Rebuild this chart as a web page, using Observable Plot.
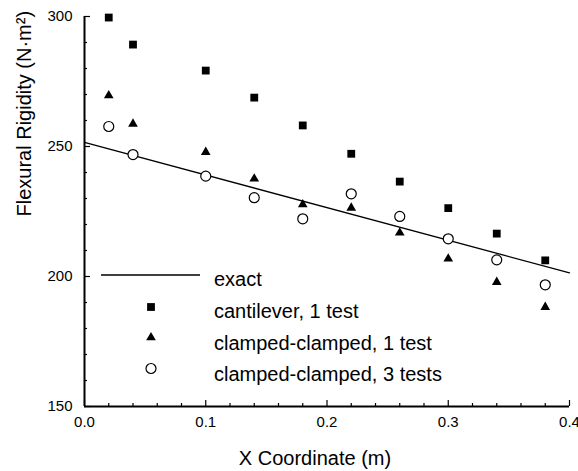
<!DOCTYPE html>
<html><head><meta charset="utf-8">
<script src="https://cdn.jsdelivr.net/npm/d3@7"></script>
<script src="https://cdn.jsdelivr.net/npm/@observablehq/plot@0.6"></script>
<style>
body{margin:0;background:#fff;}
#chart{position:relative;width:578px;height:471px;overflow:hidden;}
</style>
</head><body><div id="chart"></div>
<script>
// Data
const xPositions = [0.02, 0.04, 0.10, 0.14, 0.18, 0.22, 0.26, 0.30, 0.34, 0.38];
const cantilever1 = [299.6, 289.2, 279.2, 268.8, 258.1, 247.2, 236.5, 226.3, 216.5, 206.2];
const clamped1 = [269.6, 258.7, 247.8, 237.6, 227.7, 226.4, 216.8, 206.8, 197.8, 188.2];
const clamped3 = [257.7, 246.9, 238.6, 230.3, 222.2, 231.8, 223.1, 214.5, 206.4, 196.8];
const exactX = [0, 0.4];
const exactY = [251.6, 201.4];
const xTicks = [0, 0.1, 0.2, 0.3, 0.4];
const xMinorTicks = [0.02, 0.04, 0.06, 0.08, 0.12, 0.14, 0.16, 0.18, 0.22, 0.24, 0.26, 0.28, 0.32, 0.34, 0.36, 0.38];
const yTicks = [150, 200, 250, 300];
const yMinorTicks = [160, 170, 180, 190, 210, 220, 230, 240, 260, 270, 280, 290];
const legendLabels = ["exact", "cantilever, 1 test", "clamped-clamped, 1 test", "clamped-clamped, 3 tests"];
const xTitle = "X Coordinate (m)";
const yTitle = "Flexural Rigidity (N\u00B7m\u00B2)";

const font = "'Liberation Sans', Arial, Helvetica, sans-serif";
const toRows = ys => xPositions.map((x, i) => ({x, y: ys[i]}));
const exactRows = exactX.map((x, i) => ({x, y: exactY[i]}));

const W = 578, H = 471, mL = 84, mR = 9, mT = 16, mB = 65;
const frameW = W - mL - mR, frameH = H - mT - mB;

const plot = Plot.plot({
  width: W,
  height: H,
  marginLeft: mL,
  marginRight: mR,
  marginTop: mT,
  marginBottom: mB,
  style: {fontFamily: font, fontSize: "15px", color: "black", background: "white", overflow: "visible"},
  x: {domain: [0, 0.4], nice: false},
  y: {domain: [150, 300], nice: false},
  marks: [
    Plot.axisX(xTicks, {tickSize: 0, tickPadding: 10, tickFormat: d3.format(".1f"), label: null, fontSize: 15}),
    Plot.axisY(yTicks, {tickSize: 0, tickPadding: 12, label: null, fontSize: 15}),
    // inward tick marks
    Plot.ruleX(xTicks, {insetTop: frameH - 6, stroke: "black", strokeWidth: 1.2}),
    Plot.ruleX(xMinorTicks, {insetTop: frameH - 3, stroke: "black", strokeWidth: 1.2}),
    Plot.ruleY(yTicks, {insetRight: frameW - 6, stroke: "black", strokeWidth: 1.2}),
    Plot.ruleY(yMinorTicks, {insetRight: frameW - 3, stroke: "black", strokeWidth: 1.2}),
    Plot.ruleX([0], {stroke: "black", strokeWidth: 2}),
    Plot.ruleY([150], {stroke: "black", strokeWidth: 2}),
    Plot.line(exactRows, {x: "x", y: "y", stroke: "black", strokeWidth: 1.3}),
    Plot.dot(toRows(cantilever1), {x: "x", y: "y", symbol: "square", r: 4.4, fill: "black", stroke: "none"}),
    Plot.dot(toRows(clamped1), {x: "x", y: "y", symbol: "triangle", r: 3.6, fill: "black", stroke: "none"}),
    Plot.dot(toRows(clamped3), {x: "x", y: "y", symbol: "circle", r: 5, fill: "white", stroke: "black", strokeWidth: 1.2}),
    Plot.text([xTitle], {frameAnchor: "bottom", dx: -12, dy: 52, fontSize: 20, lineAnchor: "middle", fill: "black"}),
    Plot.text([yTitle], {frameAnchor: "left", rotate: -90, dx: -60, dy: 5, fontSize: 20, lineAnchor: "middle", fill: "black"})
  ]
});
document.getElementById("chart").appendChild(plot);

// Legend inside the plot area (drawn with d3 on the same SVG)
const svg = d3.select(plot);
const lg = svg.append("g").attr("font-family", font).attr("font-size", 20)
  .attr("fill", "black").attr("text-anchor", "start");
const rowY = [275, 307, 337.5, 368.5];
const baseY = [286, 318, 350, 381];
lg.append("line").attr("x1", 101).attr("x2", 200).attr("y1", rowY[0]).attr("y2", rowY[0])
  .attr("stroke", "black").attr("stroke-width", 1.3);
const sym = d3.symbol();
lg.append("path").attr("transform", `translate(151,${rowY[1]})`)
  .attr("d", sym.type(d3.symbolSquare).size(Math.PI * 4.4 * 4.4)()).attr("fill", "black");
lg.append("path").attr("transform", `translate(151,${rowY[2]})`)
  .attr("d", sym.type(d3.symbolTriangle).size(Math.PI * 3.6 * 3.6)()).attr("fill", "black");
lg.append("circle").attr("cx", 151).attr("cy", rowY[3]).attr("r", 5)
  .attr("fill", "white").attr("stroke", "black").attr("stroke-width", 1.2);
legendLabels.forEach((t, i) => {
  lg.append("text").attr("x", 214).attr("y", baseY[i]).attr("text-anchor", "start").text(t);
});
</script>
</body></html>
